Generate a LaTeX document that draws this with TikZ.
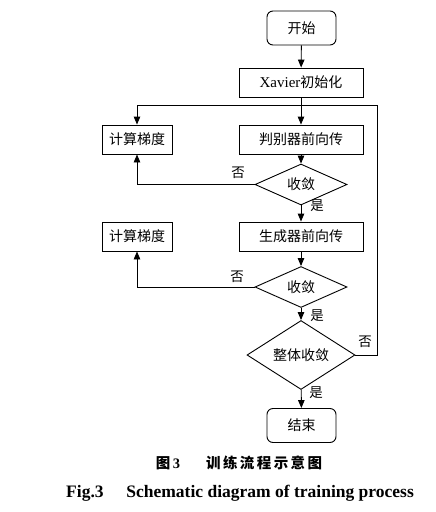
\documentclass[tikz,border=0pt]{standalone}
\usepackage{fontspec}
\setmainfont{Liberation Serif}
\newfontfamily\cjk{Noto Sans CJK SC}
\usetikzlibrary{arrows.meta,shapes.geometric}
\begin{document}
\begin{tikzpicture}[x=1pt,y=-1pt,
  line width=0.9pt,
  base/.style={draw,inner sep=0pt,font=\fontsize{14}{15}\selectfont\cjk},
  proc/.style={base,rectangle,minimum width=124pt,minimum height=29pt},
  gradbox/.style={base,rectangle,minimum width=70pt,minimum height=29pt},
  term/.style={base,rectangle,rounded corners=6pt,minimum width=69pt,minimum height=34pt},
  dec/.style={base,diamond,minimum width=92pt,minimum height=27pt},
  lab/.style={font=\fontsize{13.5}{14}\selectfont\cjk,inner sep=0pt},
  arr/.style={-{Triangle[length=8pt,width=6.5pt]}}]
\useasboundingbox (0,0) rectangle (436,512);
\node[term] (start) at (301.5,28) {开始};
\node[proc] (xav) at (301,82.5) {\fontspec{Liberation Serif}\fontsize{15}{15}\selectfont Xavier{\cjk\fontsize{14}{15}\selectfont 初始化}};
\node[proc] (disc) at (301,139.5) {判别器前向传};
\node[gradbox] (g1) at (137,139.5) {计算梯度};
\node[dec] (d1) at (301,184.5) {收敛};
\node[proc] (gen) at (301,236.5) {生成器前向传};
\node[gradbox] (g2) at (137,236.5) {计算梯度};
\node[dec] (d2) at (301,287) {收敛};
\node[dec,minimum width=108pt,minimum height=50pt] (d3) at (301,355) {整体收敛};
\node[term] (end) at (301.5,425.5) {结束};
\coordinate (c1) at (377,105);

\draw[arr] (start) -- (xav);
\draw[arr] (xav) -- (disc);
\draw[arr] (disc) -- (d1);
\draw[arr] (d1.west) -| (g1.south);
\draw[arr] (d1) -- (gen);
\draw[arr] (gen) -- (d2);
\draw[arr] (d2.west) -| (g2.south);
\draw[arr] (d2) -- (d3);
\draw[arr] (d3) -- (end);
\draw[arr] (d3.east) -| (c1) -| (g1.north);

\node[lab] (n1) at (238,173) {否};
\node[lab] (y1) at (317,205.5) {是};
\node[lab] (n2) at (237,277) {否};
\node[lab] (y2) at (317,316) {是};
\node[lab] (n3) at (365,342) {否};
\node[lab] (y3) at (316,393) {是};

\node[inner sep=0pt,font=\fontsize{14.5}{16}\selectfont] (cap1) at (239,463) {{\cjk\bfseries 图}\,\textbf{3}\hspace{1.8em}{\cjk\bfseries 训\,练\,流\,程\,示\,意\,图}};
\node[inner sep=0pt,font=\fontsize{17.5}{18}\selectfont\bfseries] (cap2) at (240,493) {Fig.3\hspace{1.3em}Schematic diagram of training process};
\end{tikzpicture}
\end{document}
